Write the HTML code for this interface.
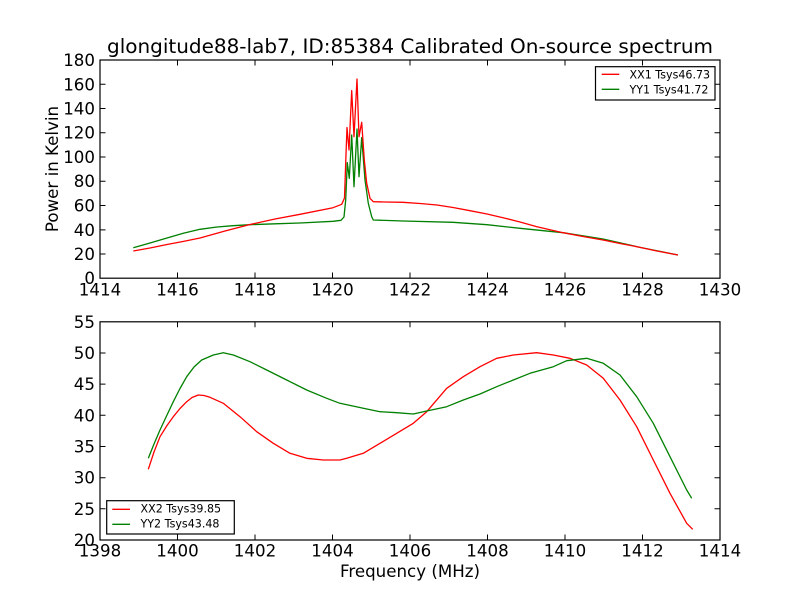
<!DOCTYPE html>
<html><head><meta charset="utf-8"><style>
html,body{margin:0;padding:0;background:#fff;}
svg{display:block;}
text{font-family:"DejaVu Sans","Liberation Sans",sans-serif;fill:#000;}
</style></head><body>
<svg width="800" height="600" viewBox="0 0 800 600" xmlns="http://www.w3.org/2000/svg">
<rect width="800" height="600" fill="#fff"/>
<text x="410" y="53" font-size="19.4" text-anchor="middle" textLength="606" lengthAdjust="spacingAndGlyphs">glongitude88-lab7, ID:85384 Calibrated On-source spectrum</text>

<!-- TOP AXES -->
<g fill="none" stroke-width="1.3" stroke-linejoin="round">
<polyline stroke="#008000" points="133.3,247.7 150,243 167,238 183.3,233.3 200,229.3 217,227 233,225.7 250,224.7 275,223.8 300,223 333,221.3 341,220.3 344,217 345.7,200 347.3,162.7 349.3,178.3 351.7,135 354,186.7 357,129 359,176.7 361.7,137.7 365,180 368.3,203.3 371.7,216.7 373.3,220 403,221 453,222.3 487,224.7 520,228.3 563,232.7 603,239 637,246.7 678,255"/>
<polyline stroke="#ff0000" points="133.3,251 150,248 167,244.5 183,241.5 200,238 225,231 250,224.5 275,219 300,214.3 333,207.7 341.7,204.3 344.5,198 345.8,160 347,127.5 349,150 351.7,90.7 354,136.7 357,79 359,136.7 361.7,122.3 364.3,160 366.7,183.3 370,198.3 373.3,201.7 385,202 403,202.3 420,203.5 437,205 453,207.5 470,210.7 487,214 503,217.7 520,222 537,226.7 550,229.7 563,232.7 583,236.5 603,240 620,243.5 637,246.7 657,251 678,255"/>
</g>
<g stroke="#000" stroke-width="1">
<path d="M177.5,278V272.5M255,278V272.5M332.5,278V272.5M410,278V272.5M487.5,278V272.5M565,278V272.5M642.5,278V272.5
M177.5,60V65.5M255,60V65.5M332.5,60V65.5M410,60V65.5M487.5,60V65.5M565,60V65.5M642.5,60V65.5
M100,254H105.5M100,229.9H105.5M100,205.5H105.5M100,181.2H105.5M100,157H105.5M100,132.7H105.5M100,108.5H105.5M100,84.3H105.5
M720,254H714.5M720,229.9H714.5M720,205.5H714.5M720,181.2H714.5M720,157H714.5M720,132.7H714.5M720,108.5H714.5M720,84.3H714.5"/>
</g>
<rect x="100" y="60" width="620" height="218.2" fill="none" stroke="#000" stroke-width="1.2"/>
<g font-size="16.67" text-anchor="end">
<text x="95" y="284">0</text><text x="95" y="260">20</text><text x="95" y="236">40</text><text x="95" y="211.5">60</text><text x="95" y="187.2">80</text><text x="95" y="163">100</text><text x="95" y="138.7">120</text><text x="95" y="114.5">140</text><text x="95" y="90.3">160</text><text x="95" y="66">180</text>
</g>
<g font-size="16.67" text-anchor="middle">
<text x="100" y="295.3">1414</text><text x="177.5" y="295.3">1416</text><text x="255" y="295.3">1418</text><text x="332.5" y="295.3">1420</text><text x="410" y="295.3">1422</text><text x="487.5" y="295.3">1424</text><text x="565" y="295.3">1426</text><text x="642.5" y="295.3">1428</text><text x="720" y="295.3">1430</text>
</g>
<text transform="translate(58,169) rotate(-90)" font-size="16.67" text-anchor="middle">Power in Kelvin</text>
<!-- top legend -->
<rect x="595.5" y="66.7" width="119.5" height="33.3" fill="#fff" stroke="#000" stroke-width="1.2"/>
<line x1="601.7" y1="74.3" x2="619.3" y2="74.3" stroke="#ff0000" stroke-width="1.3"/>
<line x1="601.7" y1="89.3" x2="619.3" y2="89.3" stroke="#008000" stroke-width="1.3"/>
<text x="629.5" y="78.3" font-size="11.1">XX1 Tsys46.73</text>
<text x="629.5" y="93.3" font-size="11.1">YY1 Tsys41.72</text>

<!-- BOTTOM AXES -->
<g fill="none" stroke-width="1.3" stroke-linejoin="round">
<polyline stroke="#ff0000" points="148.3,469.3 154,452 160,436.7 167,425.5 173.3,416.7 180,408.5 186.7,401.7 192,397.5 198.3,395 204,395.5 210,397.3 223.3,403.3 240,416.7 256.7,431.7 273.3,443.3 290,453.3 306.7,458.3 323.3,460 340,460 346.7,458.3 363.3,453.3 380,443.3 396.7,433.3 413.3,423.3 426.7,411.7 446.7,388.3 463.3,376.7 480,366.7 496.7,358.3 513.3,355 536.7,352.7 553.3,355 570,358.3 586.7,365 603.3,378.3 620,400 636.7,426.7 653.3,460 670,493.3 686.7,523.3 692.7,529.3"/>
<polyline stroke="#008000" points="148.3,458.3 154,444 160,430 167,415 173.3,401.7 180,388.5 186.7,376.7 194,367 201.7,360 213.3,355 223.3,352.7 233.3,355 250,361.7 266.7,370 286.7,380 306.7,390 326.7,398.3 340,403.3 363.3,408.3 380,411.7 396.7,412.7 413.3,414 426.7,411 446.7,406.7 463.3,400 480,394 496.7,386.7 513.3,380 530,373.3 553.3,366.7 566.7,360.7 586.7,358.3 603.3,363.3 620,375 636.7,396.7 653.3,423.3 670,456.7 686.7,490 691.7,498.3"/>
</g>
<g stroke="#000" stroke-width="1">
<path d="M177.5,540V534.5M255,540V534.5M332.5,540V534.5M410,540V534.5M487.5,540V534.5M565,540V534.5M642.5,540V534.5
M177.5,321.8V327.3M255,321.8V327.3M332.5,321.8V327.3M410,321.8V327.3M487.5,321.8V327.3M565,321.8V327.3M642.5,321.8V327.3
M100,508.8H105.5M100,477.7H105.5M100,446.5H105.5M100,415.3H105.5M100,384.1H105.5M100,353H105.5
M720,508.8H714.5M720,477.7H714.5M720,446.5H714.5M720,415.3H714.5M720,384.1H714.5M720,353H714.5"/>
</g>
<rect x="100" y="321.8" width="620" height="218.2" fill="none" stroke="#000" stroke-width="1.2"/>
<g font-size="16.67" text-anchor="end">
<text x="95" y="546">20</text><text x="95" y="514.8">25</text><text x="95" y="483.7">30</text><text x="95" y="452.5">35</text><text x="95" y="421.3">40</text><text x="95" y="390.1">45</text><text x="95" y="359">50</text><text x="95" y="327.8">55</text>
</g>
<g font-size="16.67" text-anchor="middle">
<text x="100" y="556.5">1398</text><text x="177.5" y="556.5">1400</text><text x="255" y="556.5">1402</text><text x="332.5" y="556.5">1404</text><text x="410" y="556.5">1406</text><text x="487.5" y="556.5">1408</text><text x="565" y="556.5">1410</text><text x="642.5" y="556.5">1412</text><text x="720" y="556.5">1414</text>
</g>
<text x="410" y="577" font-size="16.67" text-anchor="middle">Frequency (MHz)</text>
<!-- bottom legend -->
<rect x="106.7" y="500.7" width="127.6" height="33.3" fill="#fff" stroke="#000" stroke-width="1.2"/>
<line x1="112.3" y1="509.3" x2="130" y2="509.3" stroke="#ff0000" stroke-width="1.3"/>
<line x1="112.3" y1="524.3" x2="130" y2="524.3" stroke="#008000" stroke-width="1.3"/>
<text x="140.5" y="512.5" font-size="11.1">XX2 Tsys39.85</text>
<text x="140.5" y="527.5" font-size="11.1">YY2 Tsys43.48</text>
</svg>
</body></html>
